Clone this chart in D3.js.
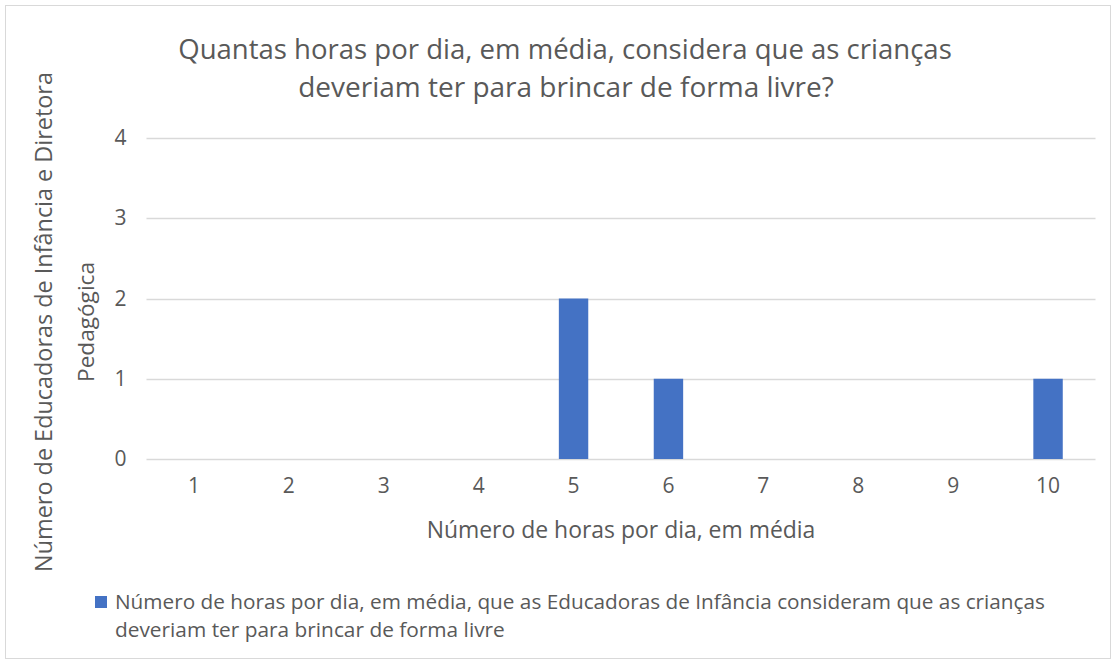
<!DOCTYPE html>
<html><head><meta charset="utf-8">
<script src="https://cdn.jsdelivr.net/npm/d3@7"></script>
<style>body{margin:0;background:#fff}svg{display:block}text{font-family:"Open Sans","Noto Sans",sans-serif;fill:#595959}</style>
</head><body>
<script>
const categories = ["1","2","3","4","5","6","7","8","9","10"];
const values = [0,0,0,0,2,1,0,0,0,1];
const yTicks = [0,1,2,3,4];
const titleLines = ["Quantas horas por dia, em média, considera que as crianças","deveriam ter para brincar de forma livre?"];
const yTitleLines = ["Número de Educadoras de Infância e Diretora","Pedagógica"];
const xTitle = "Número de horas por dia, em média";
const legendLines = ["Número de horas por dia, em média, que as Educadoras de Infância consideram que as crianças","deveriam ter para brincar de forma livre"];

const W=1116,H=664;
const svg=d3.select("body").append("svg").attr("width",W).attr("height",H);
svg.append("rect").attr("x",5.5).attr("y",5.5).attr("width",W-11).attr("height",H-11).attr("fill","#fff").attr("stroke","#d9d9d9");

const m={l:146.5,r:1095.5,t:138,b:459};
const x=d3.scaleBand().domain(categories).range([m.l,m.r]).paddingInner(0.69).paddingOuter(0.345);
const y=d3.scaleLinear().domain([0,4]).range([m.b,m.t]);

function fit(t,target){const w=t.node().getComputedTextLength();const fs=parseFloat(t.attr("font-size"));t.attr("font-size",fs*target/w);}

// grid
svg.append("g").selectAll("line").data(yTicks).join("line")
 .attr("x1",m.l).attr("x2",m.r).attr("y1",d=>Math.round(y(d))+0.5).attr("y2",d=>Math.round(y(d))+0.5)
 .attr("stroke","#d9d9d9").attr("stroke-width",1.3);

// y tick labels
const ya=d3.axisLeft(y).tickValues(yTicks).tickSize(0).tickPadding(20).tickFormat(d3.format("d"));
const gy=svg.append("g").attr("transform",`translate(${m.l},0)`).call(ya);
gy.select(".domain").remove();
gy.attr("font-size",null).attr("font-family",null);
gy.selectAll("text").style("font-size","21px").style("fill","#595959");

// x tick labels
const xa=d3.axisBottom(x).tickSize(0).tickPadding(19);
const gx=svg.append("g").attr("transform",`translate(0,${m.b})`).call(xa);
gx.select(".domain").remove();
gx.attr("font-size",null).attr("font-family",null);
gx.selectAll("text").style("font-size","21px").style("fill","#595959");

// bars
svg.append("g").selectAll("rect").data(values.map((v,i)=>({c:categories[i],v}))).join("rect")
 .attr("x",d=>x(d.c)).attr("width",x.bandwidth())
 .attr("y",d=>y(d.v)).attr("height",d=>y(0)-y(d.v)).attr("fill","#4472C4");

// title
const tl1=svg.append("text").attr("x",565).attr("y",59).attr("text-anchor","middle").attr("font-size",24).text(titleLines[0]);
fit(tl1,774);
const tl2=svg.append("text").attr("x",566).attr("y",97).attr("text-anchor","middle").attr("font-size",24).text(titleLines[1]);
fit(tl2,536);

// y title
const yt1=svg.append("text").attr("transform","translate(52,322) rotate(-90)").attr("text-anchor","middle").attr("font-size",20).text(yTitleLines[0]);
fit(yt1,500);
const yt2=svg.append("text").attr("transform","translate(94,322) rotate(-90)").attr("text-anchor","middle").attr("font-size",20).text(yTitleLines[1]);
fit(yt2,120);

// x title
const xt=svg.append("text").attr("x",621).attr("y",538).attr("text-anchor","middle").attr("font-size",20).text(xTitle);
fit(xt,389);

// legend
svg.append("rect").attr("x",95).attr("y",596).attr("width",12).attr("height",12).attr("fill","#4472C4");
const lg1=svg.append("text").attr("x",115).attr("y",609).attr("font-size",18).text(legendLines[0]);
fit(lg1,930);
const lg2=svg.append("text").attr("x",115).attr("y",637).attr("font-size",18).text(legendLines[1]);
fit(lg2,390);
</script>
</body></html>
